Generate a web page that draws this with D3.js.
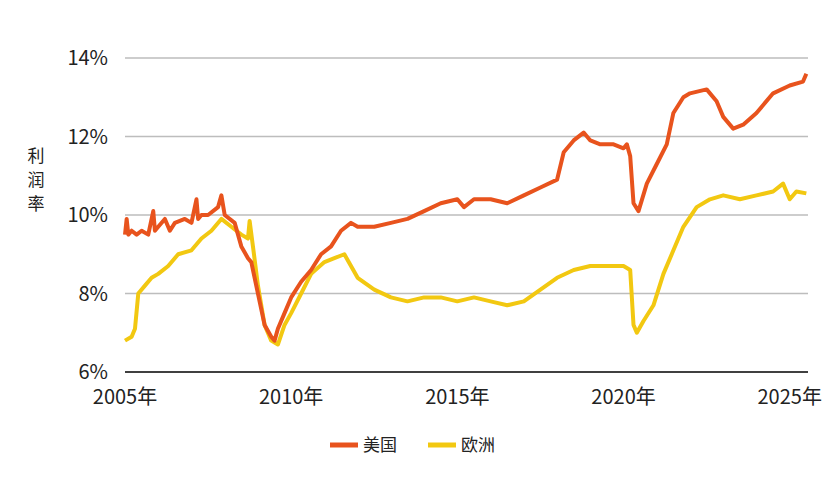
<!DOCTYPE html><html><head><meta charset="utf-8"><script src="https://cdn.jsdelivr.net/npm/d3@7"></script>
<style>body{margin:0;background:#fff}text{font-family:"Noto Sans CJK SC","Noto Sans",sans-serif}</style></head><body><svg id="c" width="840" height="485"></svg><script>
const seriesNames=["美国","欧洲"];
const colors=["#e8531d","#f2c811"];
const xTicks=[2005,2010,2015,2020,2025];
const yTicks=[6,8,10,12,14];
const usX=[2005.0,2005.05,2005.1,2005.2,2005.35,2005.5,2005.7,2005.85,2005.9,2006.0,2006.2,2006.35,2006.5,2006.8,2007.0,2007.15,2007.2,2007.3,2007.5,2007.8,2007.9,2008.0,2008.3,2008.5,2008.7,2008.8,2009.0,2009.2,2009.4,2009.5,2009.6,2009.8,2010.0,2010.3,2010.6,2010.9,2011.2,2011.5,2011.8,2012.0,2012.5,2013.0,2013.5,2014.0,2014.5,2015.0,2015.2,2015.5,2016.0,2016.5,2017.0,2017.5,2018.0,2018.2,2018.5,2018.8,2019.0,2019.3,2019.7,2020.0,2020.1,2020.2,2020.3,2020.45,2020.7,2021.0,2021.3,2021.5,2021.8,2022.0,2022.5,2022.8,2023.0,2023.3,2023.6,2024.0,2024.5,2025.0,2025.4,2025.5];
const usY=[9.5,9.9,9.5,9.6,9.5,9.6,9.5,10.1,9.6,9.7,9.9,9.6,9.8,9.9,9.8,10.4,9.9,10.0,10.0,10.2,10.5,10.0,9.8,9.2,8.9,8.8,8.0,7.2,6.9,6.8,7.1,7.5,7.9,8.3,8.6,9.0,9.2,9.6,9.8,9.7,9.7,9.8,9.9,10.1,10.3,10.4,10.2,10.4,10.4,10.3,10.5,10.7,10.9,11.6,11.9,12.1,11.9,11.8,11.8,11.7,11.8,11.5,10.3,10.1,10.8,11.3,11.8,12.6,13.0,13.1,13.2,12.9,12.5,12.2,12.3,12.6,13.1,13.3,13.4,13.6];
const euX=[2005.0,2005.2,2005.3,2005.4,2005.6,2005.8,2006.0,2006.3,2006.6,2007.0,2007.3,2007.6,2007.9,2008.2,2008.5,2008.7,2008.75,2008.85,2009.0,2009.2,2009.4,2009.6,2009.8,2010.0,2010.3,2010.6,2011.0,2011.3,2011.6,2011.8,2012.0,2012.5,2013.0,2013.5,2014.0,2014.5,2015.0,2015.5,2016.0,2016.5,2017.0,2017.5,2018.0,2018.5,2019.0,2019.5,2020.0,2020.2,2020.3,2020.4,2020.6,2020.9,2021.2,2021.5,2021.8,2022.2,2022.6,2023.0,2023.5,2024.0,2024.5,2024.8,2025.0,2025.2,2025.5];
const euY=[6.8,6.9,7.1,8.0,8.2,8.4,8.5,8.7,9.0,9.1,9.4,9.6,9.9,9.7,9.5,9.4,9.85,9.2,8.2,7.2,6.8,6.7,7.2,7.5,8.0,8.5,8.8,8.9,9.0,8.7,8.4,8.1,7.9,7.8,7.9,7.9,7.8,7.9,7.8,7.7,7.8,8.1,8.4,8.6,8.7,8.7,8.7,8.6,7.2,7.0,7.3,7.7,8.5,9.1,9.7,10.2,10.4,10.5,10.4,10.5,10.6,10.8,10.4,10.6,10.55];
const svg=d3.select("#c");
const x=d3.scaleLinear().domain([2005,2025.55]).range([125,808]);
const y=d3.scaleLinear().domain([6,14]).range([372,58]);
svg.append("g").selectAll("line").data(yTicks.slice(1)).join("line").attr("x1",125).attr("x2",808).attr("y1",d=>y(d)).attr("y2",d=>y(d)).attr("stroke","#bdbdbd").attr("stroke-width",1.5);
svg.append("line").attr("x1",125).attr("x2",808).attr("y1",y(6)).attr("y2",y(6)).attr("stroke","#000").attr("stroke-width",1.5);
svg.append("g").selectAll("text").data(yTicks).join("text").attr("x",108).attr("y",d=>y(d)+7).attr("text-anchor","end").attr("font-size",20).attr("fill","#222").text(d=>d+"%");
svg.append("g").selectAll("text").data(xTicks).join("text").attr("x",d=>x(d)).attr("y",404).attr("text-anchor","middle").attr("font-size",20).attr("fill","#222").text(d=>d+"年");
svg.append("g").selectAll("text").data(["利","润","率"]).join("text").attr("x",36).attr("y",(d,i)=>162+i*24).attr("text-anchor","middle").attr("font-size",17).attr("fill","#222").text(d=>d);
const line=d3.line().x(d=>x(d[0])).y(d=>y(d[1]));
const data=[usX.map((v,i)=>[v,usY[i]]),euX.map((v,i)=>[v,euY[i]])];
[1,0].forEach(i=>svg.append("path").attr("d",line(data[i])).attr("fill","none").attr("stroke",colors[i]).attr("stroke-width",4).attr("stroke-linejoin","round"));
const lg=[[330,seriesNames[0],colors[0]],[428,seriesNames[1],colors[1]]];
lg.forEach(([lx,t,c])=>{svg.append("line").attr("x1",lx).attr("x2",lx+28).attr("y1",445).attr("y2",445).attr("stroke",c).attr("stroke-width",5);
svg.append("text").attr("x",lx+33).attr("y",451).attr("font-size",17).attr("fill","#222").text(t);});
</script></body></html>
